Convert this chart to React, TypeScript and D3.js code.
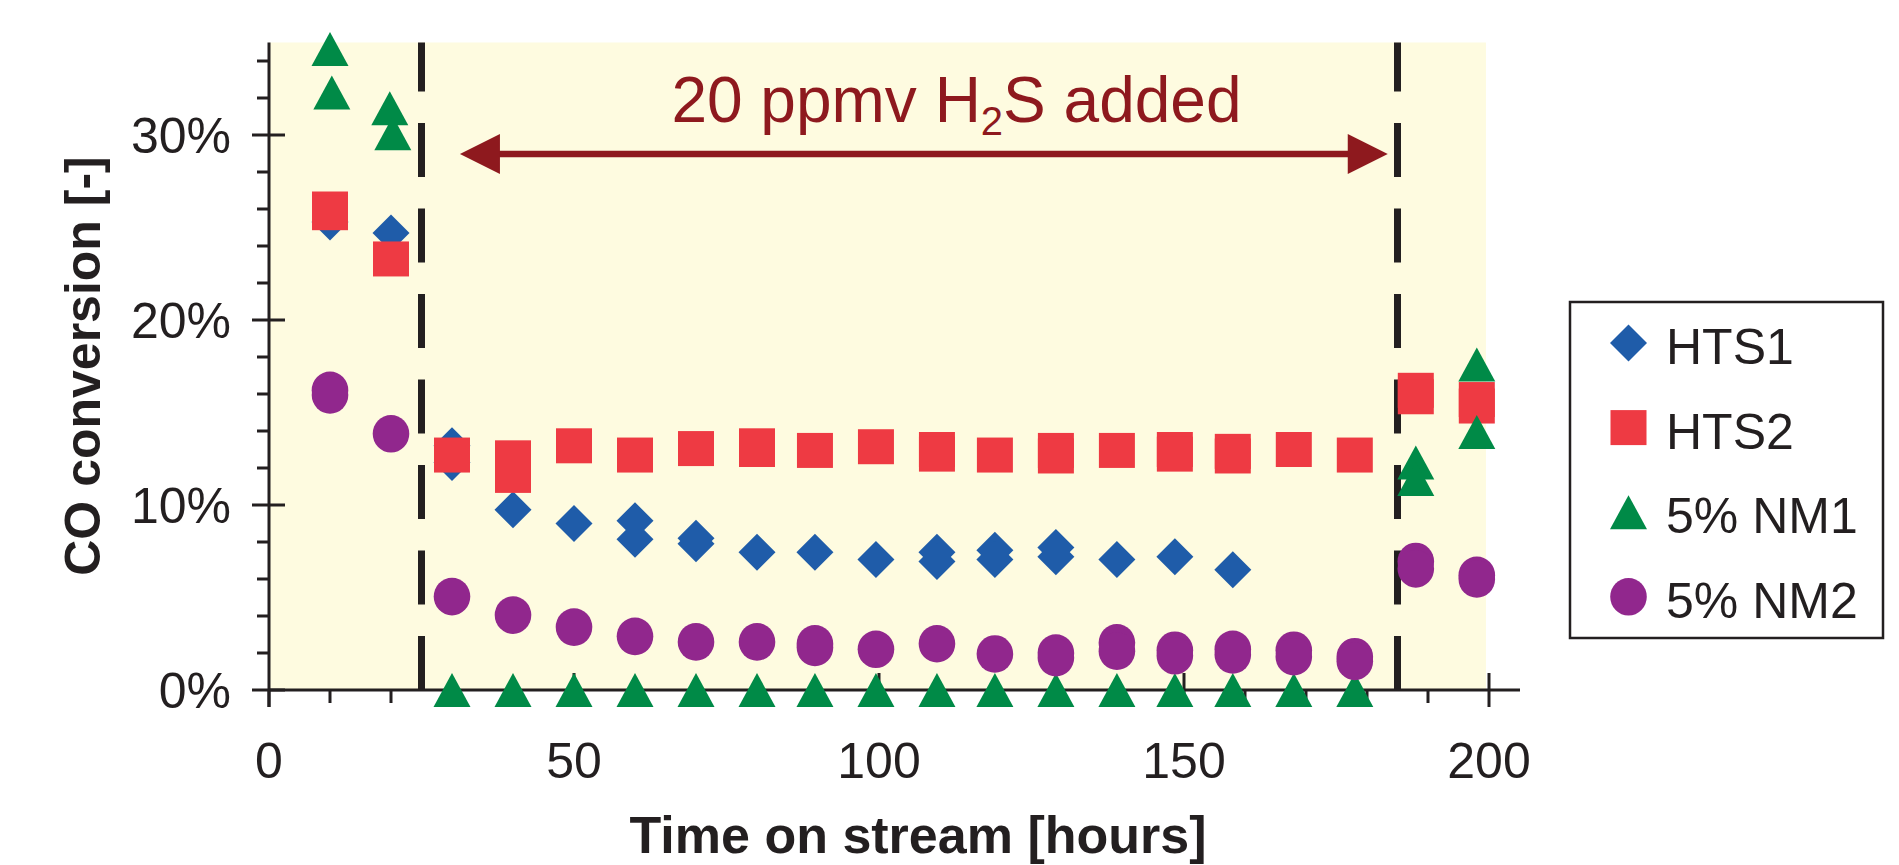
import React from "react";
import * as d3 from "d3";

// time on stream [h], CO conversion [%]
const hts1: [number, number][] = [
  [10, 25.3], [20, 24.7], [30, 13.2], [30, 12.3], [40, 9.75], [50, 9.0],
  [60, 9.15], [60, 8.15], [70, 8.2], [70, 7.9], [80, 7.45], [89.5, 7.45],
  [99.5, 7.05], [109.5, 7.45], [109.5, 6.95], [119, 7.55], [119, 7.05],
  [129, 7.7], [129, 7.2], [139, 7.05], [148.5, 7.2], [158, 6.5],
];
const hts2: [number, number][] = [
  [10, 26.0], [10, 25.8], [20, 23.3], [30, 12.7], [40, 12.55], [40, 11.6],
  [50, 13.2], [60, 12.7], [70, 13.05], [80, 13.2], [80, 13.0], [89.5, 12.95],
  [99.5, 13.15], [109.5, 13.0], [109.5, 12.75], [119, 12.7], [129, 12.95],
  [129, 12.65], [139, 12.95], [148.5, 13.0], [148.5, 12.75], [158, 12.9],
  [158, 12.65], [168, 13.0], [178, 12.7], [188, 16.2], [188, 15.85],
  [198, 15.7], [198, 15.35],
];
const nm1: [number, number][] = [
  [10, 34.65], [10.3, 32.3], [19.8, 31.45], [20.3, 30.1],
  [30, 0], [40, 0], [50, 0], [60, 0], [70, 0], [80, 0], [89.5, 0], [99.5, 0],
  [109.5, 0], [119, 0], [129, 0], [139, 0], [148.5, 0], [158, 0], [168, 0], [178, 0],
  [188, 12.3], [188, 11.4], [198, 17.6], [198, 13.95],
];
const nm2: [number, number][] = [
  [10, 16.2], [10, 15.95], [20, 13.85], [30, 5.05], [40, 4.05], [50, 3.4],
  [60, 2.9], [70, 2.6], [80, 2.6], [89.5, 2.5], [89.5, 2.3], [99.5, 2.2],
  [109.5, 2.5], [119, 1.95], [129, 2.0], [129, 1.75], [139, 2.55], [139, 2.1],
  [148.5, 2.15], [148.5, 1.85], [158, 2.2], [158, 1.9], [168, 2.15], [168, 1.8],
  [178, 1.8], [178, 1.55], [188, 6.95], [188, 6.55], [198, 6.2], [198, 6.0],
];

const seriesNames = ["HTS1", "HTS2", "5% NM1", "5% NM2"];
const seriesColors = ["#1f5ca9", "#ee3a43", "#008a47", "#91278d"];
const seriesShapes = ["diamond", "square", "triangle", "circle"];
const seriesData = [hts1, hts2, nm1, nm2];

const xTicks = [0, 50, 100, 150, 200];
const yTicks = [0, 10, 20, 30];
const h2sStart = 25;
const h2sEnd = 185;
const arrowFrom = 31.3;
const arrowTo = 183.4;
const arrowLevel = 28.97;
const labelAt = 112.7;
const labelLevel = 30.7;

const FONT = "'Liberation Sans', Arial, Helvetica, sans-serif";
const AXIS = "#231f20";
const DARKRED = "#8e191e";

const x = d3.scaleLinear().domain([0, 200]).range([269, 1489]);
const y = d3.scaleLinear().domain([0, 35]).range([690, 42.5]);

function Marker({ shape, color, cx, cy }: { shape: string; color: string; cx: number; cy: number }) {
  if (shape === "circle") return <ellipse cx={cx} cy={cy} rx={18.3} ry={18.8} fill={color} />;
  if (shape === "square") return <rect x={cx - 18} y={cy - 17.5} width={36} height={35} fill={color} />;
  if (shape === "diamond")
    return <path d={`M${cx},${cy - 18.5}L${cx + 18.5},${cy}L${cx},${cy + 18.5}L${cx - 18.5},${cy}Z`} fill={color} />;
  return <path d={`M${cx},${cy - 17}L${cx + 18.5},${cy + 17}L${cx - 18.5},${cy + 17}Z`} fill={color} />;
}

export default function App() {
  const minorY = d3.range(0, 35, 2);
  const minorX = d3.range(0, 201, 10);
  return (
    <svg width={1899} height={865} style={{ position: "absolute", left: 0, top: 0, background: "#fff" }}>
      {/* plot background */}
      <rect x={x(0)} y={y(35)} width={x(199.5) - x(0)} height={y(0) - y(35)} fill="#fefbe0" />

      {/* H2S period */}
      {[h2sStart, h2sEnd].map((h) => (
        <line key={h} x1={x(h)} x2={x(h)} y1={y(0)} y2={y(35)} stroke={AXIS} strokeWidth={7} strokeDasharray="54 31.5" />
      ))}
      <line x1={x(arrowFrom) + 38} x2={x(arrowTo) - 38} y1={y(arrowLevel)} y2={y(arrowLevel)} stroke={DARKRED} strokeWidth={6.5} />
      <path d={`M${x(arrowFrom)},${y(arrowLevel)}L${x(arrowFrom) + 40},${y(arrowLevel) - 20}L${x(arrowFrom) + 40},${y(arrowLevel) + 20}Z`} fill={DARKRED} />
      <path d={`M${x(arrowTo)},${y(arrowLevel)}L${x(arrowTo) - 40},${y(arrowLevel) - 20}L${x(arrowTo) - 40},${y(arrowLevel) + 20}Z`} fill={DARKRED} />
      <text x={x(labelAt)} y={y(labelLevel)} fill={DARKRED} fontFamily={FONT} fontSize={64} textAnchor="middle">
        20 ppmv H<tspan fontSize={40} dy={13}>2</tspan><tspan dy={-13}>S added</tspan>
      </text>

      {/* axes */}
      <g stroke={AXIS} strokeWidth={3}>
        <line x1={x(0)} x2={x(0)} y1={y(35)} y2={707} />
        <line x1={x(0)} x2={1520} y1={y(0)} y2={y(0)} />
        {minorY.map((v) => (
          <line key={"my" + v} x1={yTicks.includes(v) ? 252 : 257} x2={yTicks.includes(v) ? 285 : x(0)} y1={y(v)} y2={y(v)} />
        ))}
        {minorX.map((h) => (
          <line key={"mx" + h} x1={x(h)} x2={x(h)} y1={xTicks.includes(h) && h > 0 ? 673 : y(0)} y2={xTicks.includes(h) ? 707 : 703} />
        ))}
      </g>
      {yTicks.map((v) => (
        <text key={"yl" + v} x={231} y={y(v) + 17.5} fontFamily={FONT} fontSize={50} textAnchor="end" fill={AXIS}>
          {v}%
        </text>
      ))}
      {xTicks.map((h) => (
        <text key={"xl" + h} x={x(h)} y={778} fontFamily={FONT} fontSize={50} textAnchor="middle" fill={AXIS}>
          {h}
        </text>
      ))}
      <text x={918} y={853} fontFamily={FONT} fontSize={52} fontWeight="bold" textAnchor="middle" fill={AXIS}>
        Time on stream [hours]
      </text>
      <text transform="translate(100,366) rotate(-90)" fontFamily={FONT} fontSize={50} fontWeight="bold" textAnchor="middle" fill={AXIS}>
        CO conversion [-]
      </text>

      {/* data */}
      {seriesData.map((data, i) => (
        <g key={seriesNames[i]}>
          {data.map(([h, v], j) => (
            <Marker key={j} shape={seriesShapes[i]} color={seriesColors[i]} cx={x(h)} cy={y(v)} />
          ))}
        </g>
      ))}

      {/* legend */}
      <rect x={1570} y={302} width={313} height={336} fill="#fff" stroke={AXIS} strokeWidth={2.5} />
      {seriesNames.map((name, i) => {
        const cy = 343 + i * 84.6;
        return (
          <g key={"lg" + name}>
            <Marker shape={seriesShapes[i]} color={seriesColors[i]} cx={1628.5} cy={cy} />
            <text x={1666} y={cy + 21} fontFamily={FONT} fontSize={50} fill={AXIS}>
              {name}
            </text>
          </g>
        );
      })}
    </svg>
  );
}
